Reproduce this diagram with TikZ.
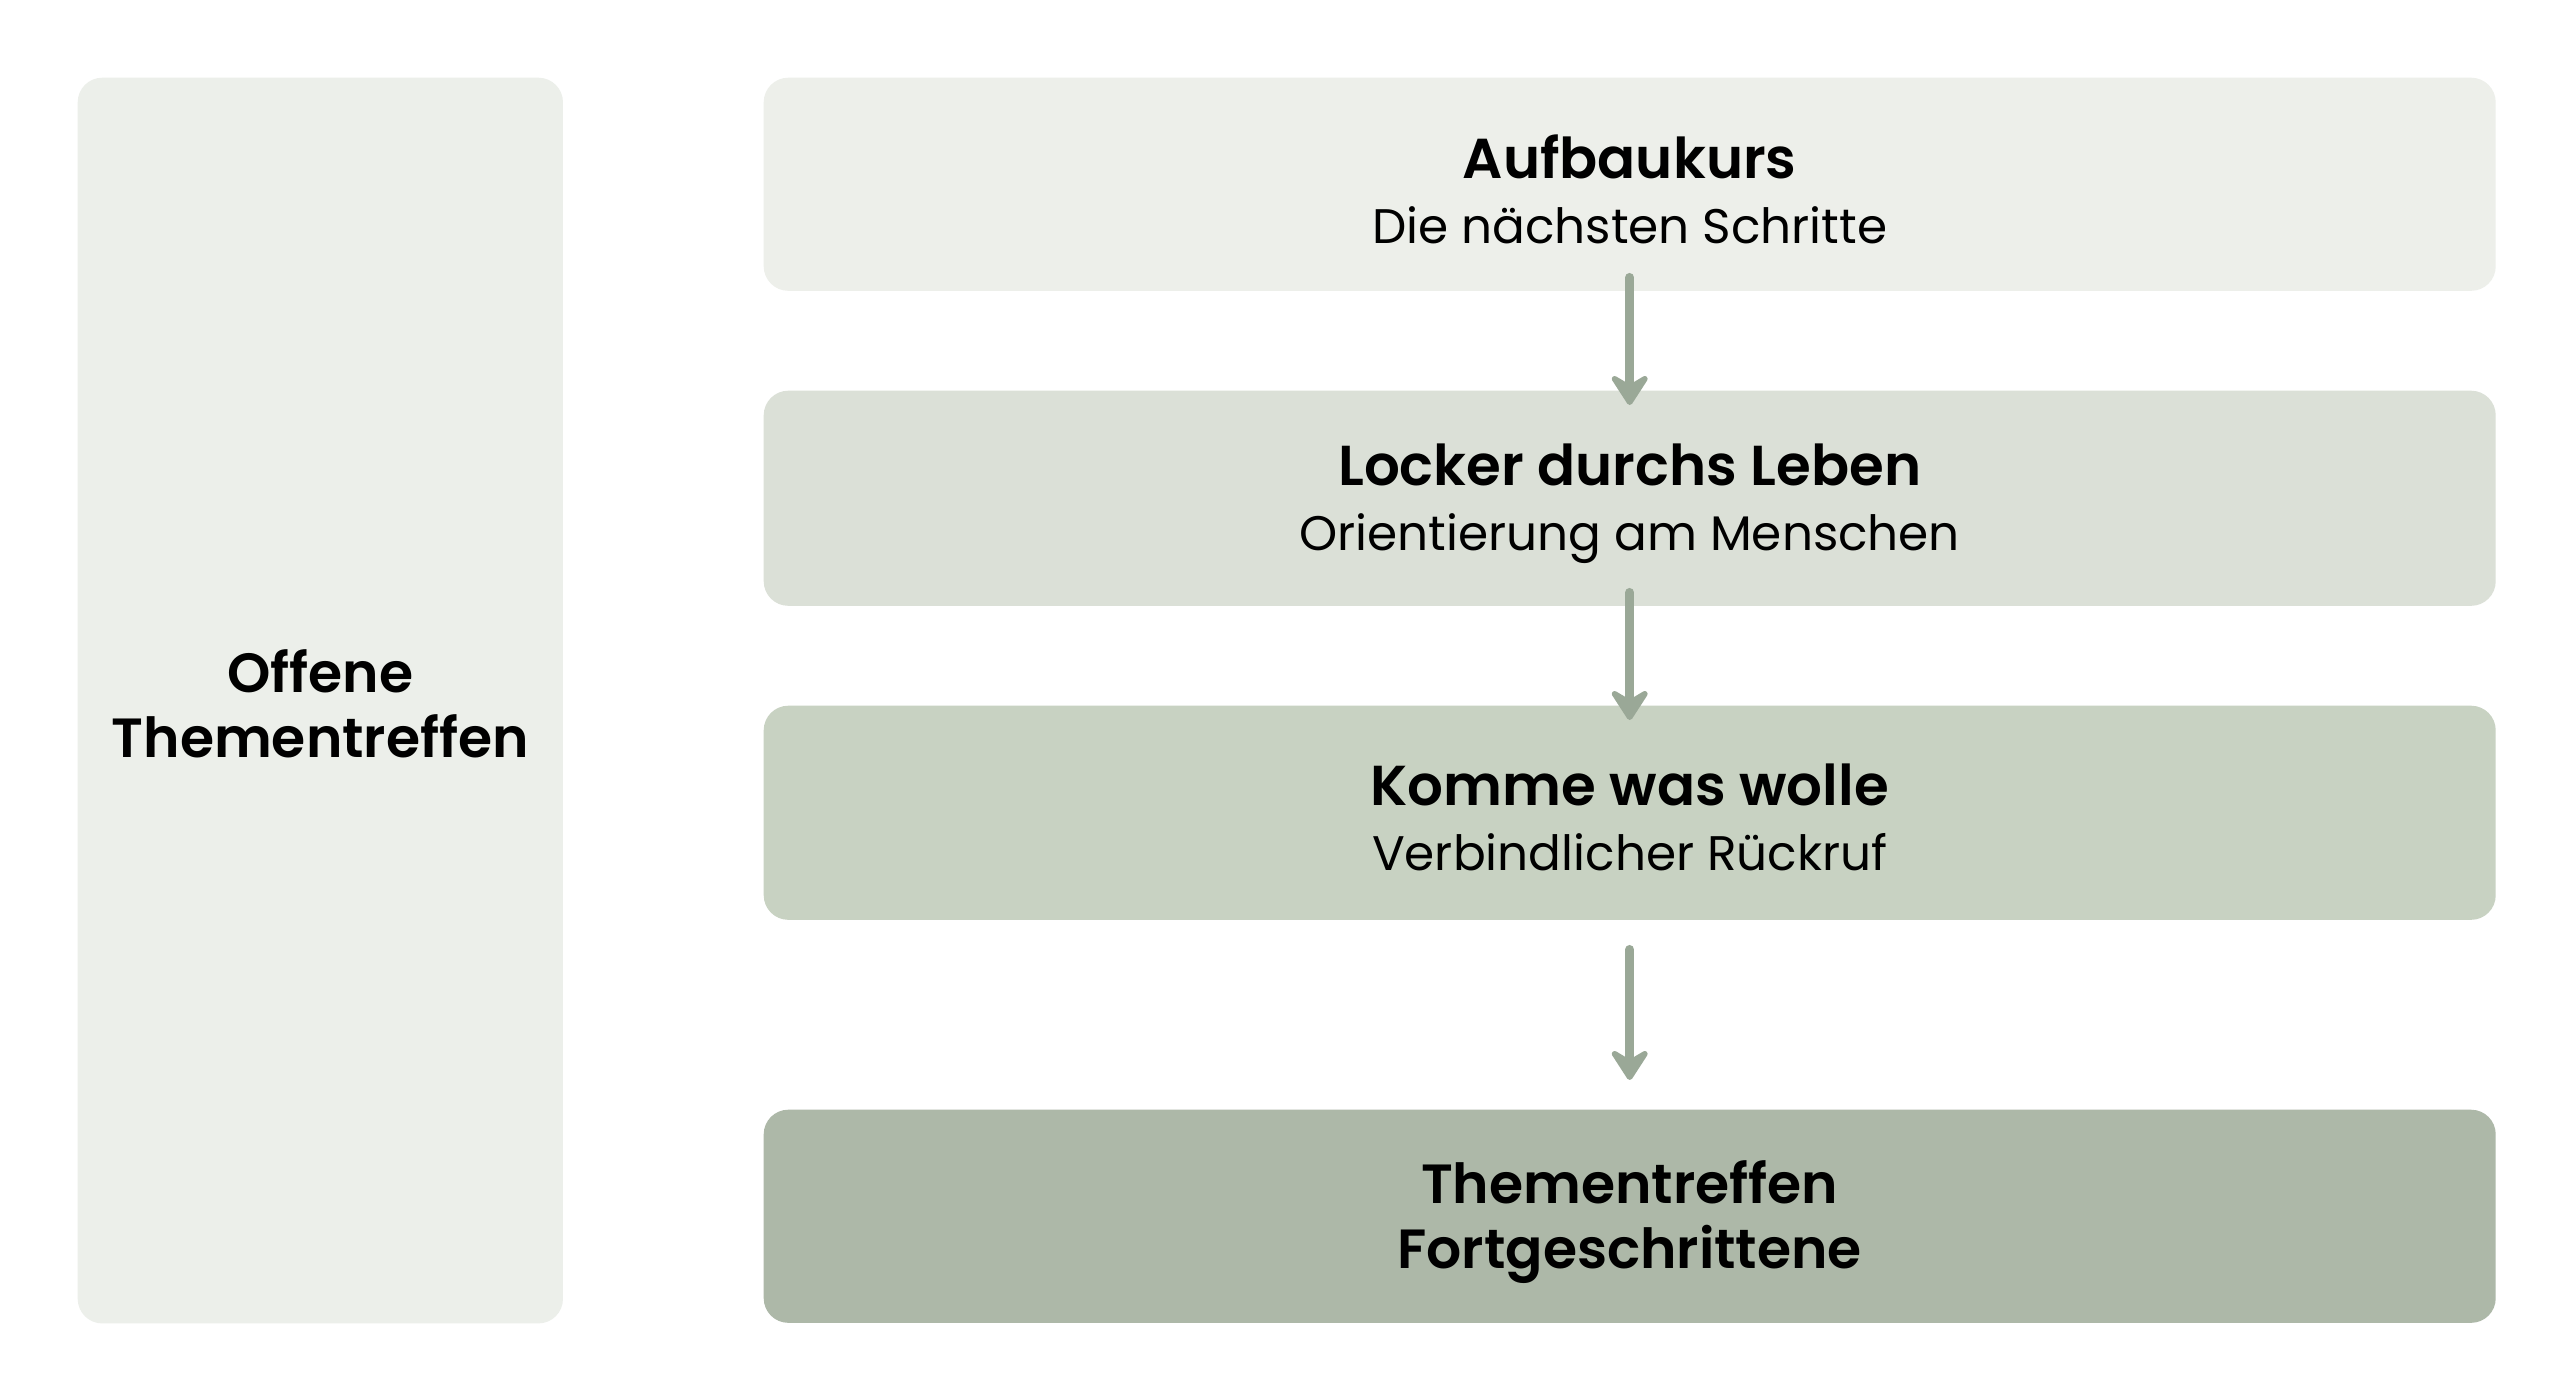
\documentclass[tikz,border=0pt]{standalone}
\usepackage{fontspec}
\setmainfont{Poppins}[BoldFont={Poppins SemiBold}]
\usetikzlibrary{arrows.meta}
\definecolor{cLeft}{HTML}{ECEFEA}
\definecolor{cOne}{HTML}{EDEFEA}
\definecolor{cTwo}{HTML}{DBE0D7}
\definecolor{cThree}{HTML}{C8D2C2}
\definecolor{cFour}{HTML}{ADB8A8}
\definecolor{cArrow}{HTML}{9AA897}
\tikzset{
  px/.style={x=0.01cm,y=-0.01cm},
  boxbase/.style={rounded corners=7pt, inner sep=0pt, anchor=north west},
  flowarrow/.style={draw=cArrow, line width=2.6pt, line cap=round,
    -{Stealth[length=10.5pt,width=13.5pt,inset=4pt,round]}},
  ttl/.style={font=\fontsize{15.7}{18.5}\selectfont\bfseries, align=center, text=black, inner sep=0pt},
  twoline/.style={font=\fontsize{13.8}{18.5}\selectfont, align=center, text=black, inner sep=0pt},
}
\newcommand{\ttlx}[1]{{\fontsize{16}{18.5}\selectfont\bfseries #1}}
\begin{document}
\begin{tikzpicture}[px]
\useasboundingbox (0,0) rectangle (2560,1400);
\fill[white] (0,0) rectangle (2560,1400);
\node[boxbase, fill=cLeft, minimum width=4.85cm, minimum height=12.45cm] (left) at (77,77) {};
\node[boxbase, fill=cOne, minimum width=17.31cm, minimum height=2.13cm] (b1) at (763,77) {};
\node[boxbase, fill=cTwo, minimum width=17.31cm, minimum height=2.15cm] (b2) at (763,390) {};
\node[boxbase, fill=cThree, minimum width=17.31cm, minimum height=2.14cm] (b3) at (763,705) {};
\node[boxbase, fill=cFour, minimum width=17.31cm, minimum height=2.13cm] (b4) at (763,1109) {};
\node[ttl, yshift=-0.03cm] (tleft) at (left.center) {Offene\\Thementreffen};
\node[twoline, yshift=-0.05cm] (t1) at (b1.center) {\ttlx{Aufbaukurs}\\Die nächsten Schritte};
\node[twoline, yshift=-0.05cm] (t2) at (b2.center) {\ttlx{Locker durchs Leben}\\Orientierung am Menschen};
\node[twoline, yshift=-0.05cm] (t3) at (b3.center) {\ttlx{Komme was wolle}\\Verbindlicher Rückruf};
\node[ttl, yshift=-0.06cm] (t4) at (b4.center) {Thementreffen\\Fortgeschrittene};
\draw[flowarrow] ([yshift=0.14cm]b1.south) -- ([yshift=-0.15cm]b2.north);
\draw[flowarrow] ([yshift=0.14cm]b2.south) -- ([yshift=-0.15cm]b3.north);
\draw[flowarrow] ([yshift=-0.29cm]b3.south) -- ([yshift=0.29cm]b4.north);
\end{tikzpicture}
\end{document}
